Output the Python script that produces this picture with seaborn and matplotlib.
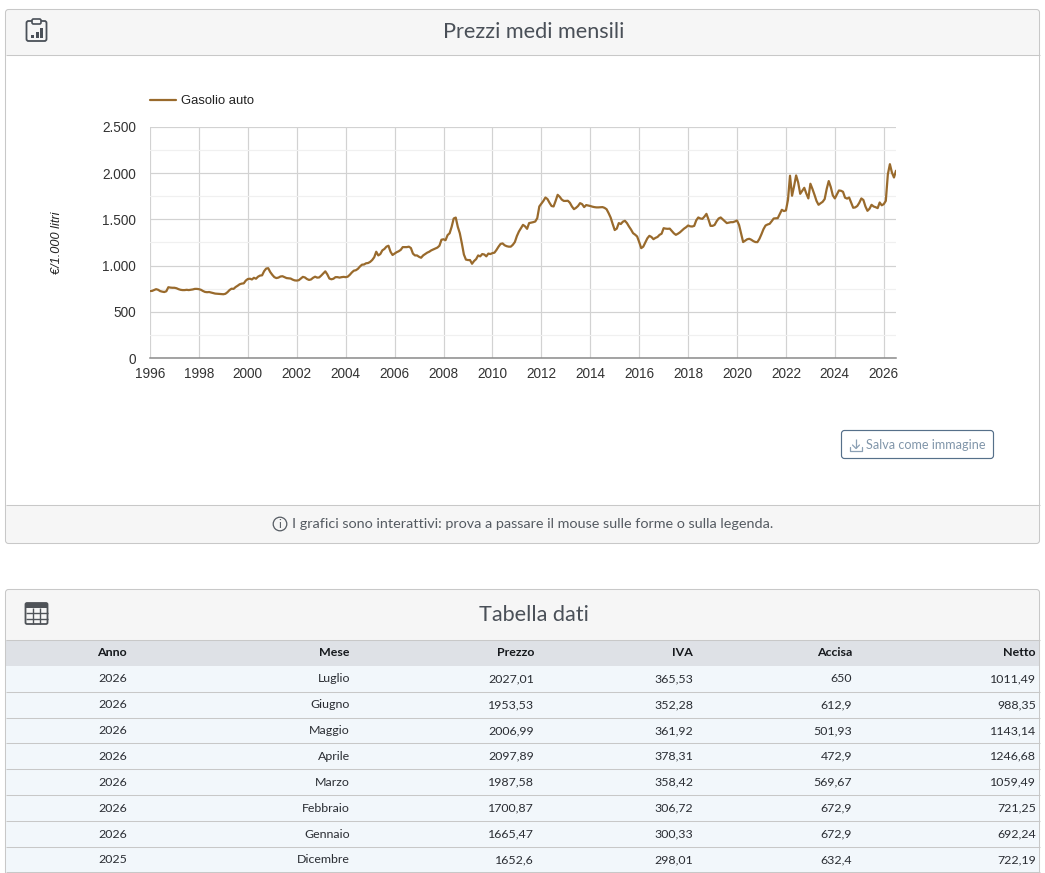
import numpy as np
import pandas as pd
import matplotlib
matplotlib.use("Agg")
import matplotlib.pyplot as plt
import seaborn as sns
from matplotlib.patches import Rectangle, FancyBboxPatch, Circle
from matplotlib.ticker import FuncFormatter, MultipleLocator

# prezzi mensili (gen-dic), 2026 fino a luglio
prezzi_1996 = [725, 726, 735, 745, 738, 724, 718, 714, 722, 766, 762, 760]
prezzi_1997 = [760, 755, 745, 738, 735, 735, 738, 735, 738, 742, 748, 748]
prezzi_1998 = [745, 738, 725, 715, 712, 714, 708, 703, 697, 695, 693, 692]
prezzi_1999 = [690, 695, 712, 735, 750, 748, 768, 782, 798, 805, 808, 838]
prezzi_2000 = [855, 858, 850, 868, 858, 880, 892, 895, 940, 968, 972, 930]
prezzi_2001 = [900, 875, 865, 870, 882, 885, 875, 865, 862, 860, 848, 840]
prezzi_2002 = [838, 842, 860, 878, 872, 855, 845, 850, 868, 880, 870, 872]
prezzi_2003 = [892, 915, 938, 905, 860, 852, 858, 875, 875, 870, 875, 878]
prezzi_2004 = [875, 880, 900, 925, 945, 950, 965, 990, 1010, 1012, 1025, 1028]
prezzi_2005 = [1040, 1060, 1090, 1150, 1110, 1125, 1165, 1180, 1205, 1215, 1150, 1115]
prezzi_2006 = [1130, 1145, 1155, 1170, 1200, 1200, 1200, 1205, 1190, 1130, 1110, 1110]
prezzi_2007 = [1095, 1085, 1110, 1125, 1140, 1150, 1165, 1175, 1185, 1195, 1215, 1280]
prezzi_2008 = [1285, 1275, 1330, 1350, 1420, 1510, 1520, 1420, 1350, 1240, 1120, 1065]
prezzi_2009 = [1060, 1060, 1020, 1050, 1070, 1110, 1100, 1125, 1120, 1100, 1130, 1125]
prezzi_2010 = [1135, 1140, 1170, 1205, 1235, 1240, 1220, 1210, 1205, 1205, 1225, 1255]
prezzi_2011 = [1320, 1369, 1405, 1441, 1425, 1398, 1460, 1465, 1470, 1477, 1514, 1640]
prezzi_2012 = [1670, 1700, 1737, 1720, 1680, 1645, 1640, 1700, 1766, 1745, 1715, 1700]
prezzi_2013 = [1700, 1702, 1680, 1640, 1611, 1625, 1645, 1676, 1665, 1633, 1655, 1650]
prezzi_2014 = [1645, 1638, 1633, 1630, 1630, 1632, 1633, 1625, 1610, 1568, 1520, 1450]
prezzi_2015 = [1385, 1400, 1460, 1450, 1475, 1485, 1460, 1423, 1390, 1351, 1335, 1315]
prezzi_2016 = [1255, 1189, 1205, 1250, 1295, 1322, 1310, 1286, 1300, 1310, 1333, 1345]
prezzi_2017 = [1405, 1400, 1398, 1400, 1375, 1350, 1333, 1345, 1360, 1380, 1400, 1415]
prezzi_2018 = [1434, 1425, 1423, 1430, 1490, 1521, 1510, 1506, 1530, 1560, 1500, 1430]
prezzi_2019 = [1430, 1440, 1480, 1510, 1521, 1500, 1480, 1460, 1465, 1470, 1470, 1478]
prezzi_2020 = [1488, 1440, 1350, 1255, 1270, 1285, 1290, 1280, 1265, 1255, 1254, 1290]
prezzi_2021 = [1340, 1395, 1434, 1445, 1452, 1480, 1510, 1512, 1514, 1560, 1604, 1590]
prezzi_2022 = [1597, 1712, 1973, 1756, 1860, 1976, 1900, 1777, 1810, 1842, 1780, 1727]
prezzi_2023 = [1886, 1830, 1767, 1700, 1658, 1675, 1690, 1720, 1830, 1915, 1850, 1760]
prezzi_2024 = [1727, 1770, 1813, 1810, 1799, 1735, 1725, 1737, 1680, 1626, 1630, 1645]
prezzi_2025 = [1680, 1727, 1710, 1640, 1593, 1615, 1658, 1640, 1632, 1622, 1683, 1652.6]
prezzi_2026 = [1665.47, 1700.87, 1987.58, 2097.89, 2006.99, 1953.53, 2027.01]

anni_serie = list(range(1996, 2027))
prezzi_per_anno = [
    prezzi_1996, prezzi_1997, prezzi_1998, prezzi_1999, prezzi_2000, prezzi_2001,
    prezzi_2002, prezzi_2003, prezzi_2004, prezzi_2005, prezzi_2006, prezzi_2007,
    prezzi_2008, prezzi_2009, prezzi_2010, prezzi_2011, prezzi_2012, prezzi_2013,
    prezzi_2014, prezzi_2015, prezzi_2016, prezzi_2017, prezzi_2018, prezzi_2019,
    prezzi_2020, prezzi_2021, prezzi_2022, prezzi_2023, prezzi_2024, prezzi_2025,
    prezzi_2026,
]

# tabella
colonne = ["Anno", "Mese", "Prezzo", "IVA", "Accisa", "Netto"]
tab_anno = ["2026", "2026", "2026", "2026", "2026", "2026", "2026", "2025"]
tab_mese = ["Luglio", "Giugno", "Maggio", "Aprile", "Marzo", "Febbraio", "Gennaio", "Dicembre"]
tab_prezzo = ["2027,01", "1953,53", "2006,99", "2097,89", "1987,58", "1700,87", "1665,47", "1652,6"]
tab_iva = ["365,53", "352,28", "361,92", "378,31", "358,42", "306,72", "300,33", "298,01"]
tab_accisa = ["650", "612,9", "501,93", "472,9", "569,67", "672,9", "672,9", "632,4"]
tab_netto = ["1011,49", "988,35", "1143,14", "1246,68", "1059,49", "721,25", "692,24", "722,19"]

W, H = 1045, 873
BORDO = "#c8c8c8"
HEADER = "#f6f6f6"
TESTO = "#4a5058"
LINEA = "#996a2c"
UI_FONT = ["Lato", "DejaVu Sans"]
CHART_FONT = ["Liberation Sans", "DejaVu Sans"]

sns.set_theme(style="whitegrid")
plt.rcParams["font.family"] = CHART_FONT

rows = []
for anno, valori in zip(anni_serie, prezzi_per_anno):
    for i, v in enumerate(valori):
        rows.append({"t": anno + i / 12, "prezzo": v})
df = pd.DataFrame(rows)

fig = plt.figure(figsize=(W / 100, H / 100), dpi=100, facecolor="white")

# sfondo in coordinate pixel: pannelli, tabella, icone
bg = fig.add_axes([0, 0, 1, 1])
bg.set_xlim(0, W)
bg.set_ylim(H, 0)
bg.axis("off")


def box(x0, y0, x1, y1, fc, ec="none", lw=0.75, z=1):
    bg.add_patch(Rectangle((x0, y0), x1 - x0, y1 - y0, fc=fc, ec=ec, lw=lw, zorder=z))


def rounded(x0, y0, x1, y1, fc, ec=BORDO, lw=0.75, r=3, z=1):
    bg.add_patch(FancyBboxPatch((x0 + r, y0 + r), x1 - x0 - 2 * r, y1 - y0 - 2 * r,
                                boxstyle=f"round,pad={r}", fc=fc, ec=ec, lw=lw, zorder=z))


def hline(y, x0=5.5, x1=1039.5, color=BORDO, lw=0.75, z=3):
    bg.plot([x0, x1], [y, y], color=color, lw=lw, zorder=z, solid_capstyle="butt")


def vline(x, y0, y1, color=BORDO, lw=0.75, z=3):
    bg.plot([x, x], [y0, y1], color=color, lw=lw, zorder=z, solid_capstyle="butt")


# pannello grafico: prima i fondi, il contorno per ultimo
box(6, 10, 1039, 54.5, HEADER)
box(6, 504.5, 1039, 543, HEADER)
hline(54.5)
hline(504.5)
rounded(5.5, 9.5, 1039.5, 543.5, "none", z=6)
bg.text(534, 32, "Prezzi medi mensili", ha="center", va="center", fontsize=15.6,
        color=TESTO, family=UI_FONT, zorder=4)

# icona clipboard
rounded(26.5, 21, 46.5, 41, "none", ec="#4a5058", lw=1.3, r=2, z=4)
rounded(32, 19, 41, 24, HEADER, ec="#4a5058", lw=1.2, r=1.5, z=5)
for bx, by in [(31, 35), (35.5, 32), (40, 28)]:
    box(bx, by, bx + 3, 38, "#4a5058", z=5)

# pulsante salva
rounded(841.5, 430.5, 993.5, 458.5, "white", ec="#56708a", lw=0.85, r=3, z=2)
ICONA = "#8ba0b5"
bg.plot([850, 850, 862, 862], [447, 451, 451, 447], color=ICONA, lw=0.9, zorder=3)
vline(856, 439, 448, color=ICONA, lw=0.9)
bg.plot([852.5, 856, 859.5], [445, 448.5, 445], color=ICONA, lw=0.9, zorder=3)
bg.text(866, 445, "Salva come immagine", ha="left", va="center", fontsize=9.1,
        color="#8196aa", family=UI_FONT, zorder=3)

# nota sotto il grafico
bg.add_patch(Circle((280, 524), 6.8, fc="none", ec="#555b62", lw=0.9, zorder=4))
bg.text(280, 524, "i", ha="center", va="center", fontsize=8.5, color="#555b62",
        family=UI_FONT, zorder=4)
bg.text(292, 524, "I grafici sono interattivi: prova a passare il mouse sulle forme o sulla legenda.",
        ha="left", va="center", fontsize=10.4, color="#555b62", family=UI_FONT, zorder=4)

# pannello tabella: il contorno prosegue oltre il bordo inferiore della figura
box(6, 590, 1039, 639.5, HEADER)
hline(639.5)
rounded(5.5, 589.5, 1039.5, 900, "none", z=6)
bg.text(534, 615, "Tabella dati", ha="center", va="center", fontsize=15.6,
        color=TESTO, family=UI_FONT, zorder=4)

# icona tabella
rounded(25.5, 603, 47.5, 624, "none", ec="#4f5358", lw=1.3, r=1.5, z=4)
box(25.5, 603, 47.5, 608, "#4f5358", z=4)
for gx in [32.8, 40.2]:
    vline(gx, 608, 624, color="#4f5358", lw=1, z=4)
for gy in [613.3, 618.6]:
    hline(gy, 25.5, 47.5, color="#4f5358", lw=1, z=4)

col_right = [127, 350, 534, 693, 852, 1036]
righe_y = [665.5, 691.5, 717.5, 742.5, 768.5, 794.5, 820.5, 846.5, 871.5]

box(6, 640, 1039, 665.5, "#dee1e6", z=2)
for c, xr in zip(colonne, col_right):
    bg.text(xr, 652, c, ha="right", va="center", fontsize=8.9, fontweight="bold",
            color="#15181c", family=UI_FONT, zorder=4)

colonne_dati = [tab_anno, tab_mese, tab_prezzo, tab_iva, tab_accisa, tab_netto]
for r in range(len(tab_anno)):
    y0, y1 = righe_y[r], righe_y[r + 1]
    box(6, y0, 1039, y1, "#f2f7fb", z=2)
    hline(y1)
    for col, xr in zip(colonne_dati, col_right):
        bg.text(xr, (y0 + y1) / 2 + 0.5, col[r], ha="right", va="center", fontsize=8.9,
                color="#2a2d33", family=UI_FONT, zorder=4)

# grafico
ax_l, ax_r, ax_t, ax_b = 150, 896, 127, 358
ax = fig.add_axes([ax_l / W, 1 - ax_b / H, (ax_r - ax_l) / W, (ax_b - ax_t) / H])
ax.patch.set_alpha(0)
sns.lineplot(data=df, x="t", y="prezzo", color=LINEA, lw=1.6, ax=ax, label="Gasolio auto", zorder=5)

ax.set_xlim(1996, 2026.5)
ax.set_ylim(0, 2500)
ax.xaxis.set_major_locator(MultipleLocator(2))
ax.xaxis.set_minor_locator(MultipleLocator(1))
ax.yaxis.set_major_locator(MultipleLocator(500))
ax.yaxis.set_minor_locator(MultipleLocator(250))
ax.yaxis.set_major_formatter(FuncFormatter(lambda v, _: f"{int(v):,}".replace(",", ".")))
ax.xaxis.set_major_formatter(FuncFormatter(lambda v, _: f"{int(v)}"))

ax.grid(False)
ax.grid(True, which="major", axis="x", color="#d2d2d2", lw=0.85)
ax.grid(True, which="major", axis="y", color="#d2d2d2", lw=0.85)
ax.grid(True, which="minor", axis="y", color="#f0f0f0", lw=0.85)
ax.set_axisbelow(True)
ax.tick_params(axis="both", which="major", labelsize=9.8, labelcolor="#333333", length=0)
ax.tick_params(axis="x", which="major", pad=6.5)
ax.tick_params(axis="y", which="major", pad=10.2)
ax.tick_params(axis="x", which="minor", direction="in", length=4, width=0.8, color="#c8c8c8")
ax.tick_params(axis="y", which="minor", length=0)
for s in ["top", "left", "right"]:
    ax.spines[s].set_visible(False)
ax.spines["bottom"].set_color("#8a8a8a")
ax.spines["bottom"].set_linewidth(1.1)
ax.set_xlabel("")
ax.set_ylabel("€/1.000 litri", fontsize=9.2, fontstyle="italic", color="#222222")
ax.yaxis.set_label_coords((62.5 - ax_l) / (ax_r - ax_l), 0.5)

leg = ax.legend(loc="lower left", bbox_to_anchor=(-0.0005, 1.085), frameon=False, fontsize=9.4,
                handlelength=2.0, handletextpad=0.4, borderpad=0, borderaxespad=0)
for t in leg.get_texts():
    t.set_color("#222222")

fig.savefig("out.png", dpi=100)
plt.close(fig)
